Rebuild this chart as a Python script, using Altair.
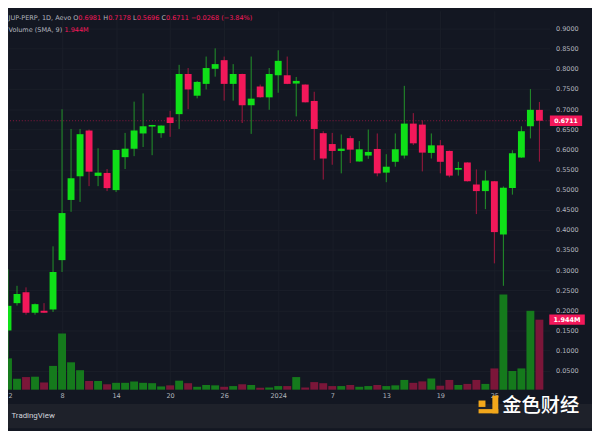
import altair as alt
import pandas as pd

# ---------------- data ----------------
day_index = list(range(60))  # 2023-12-02 ... 2024-01-30, one candle per day

opens = [0.1500, 0.2179, 0.2449, 0.1941, 0.1990, 0.2022, 0.3248, 0.4743, 0.5331, 0.6468,
         0.5341, 0.5414, 0.4988, 0.5806, 0.6017, 0.6395, 0.6566, 0.6402, 0.6794, 0.6875,
         0.7873, 0.7333, 0.7627, 0.8002, 0.8216, 0.7627, 0.7873, 0.7096, 0.7561, 0.7292,
         0.7841, 0.7841, 0.7635, 0.7610, 0.7203, 0.6402, 0.6132, 0.5961, 0.6279, 0.5699,
         0.5846, 0.6010, 0.5422, 0.5691, 0.5846, 0.6640, 0.6615, 0.5912, 0.6100, 0.5961,
         0.5495, 0.5674, 0.5127, 0.4963, 0.5208, 0.3885, 0.5037, 0.5797, 0.6574, 0.6981]
highs = [0.3020, 0.2610, 0.2571, 0.2170, 0.2179, 0.3591, 0.6998, 0.6507, 0.6507, 0.6493,
         0.6027, 0.5512, 0.5990, 0.6409, 0.7186, 0.7390, 0.6610, 0.6595, 0.6958, 0.8100,
         0.8020, 0.7701, 0.8306, 0.8510, 0.8306, 0.8118, 0.7880, 0.8306, 0.7610, 0.8020,
         0.8461, 0.8306, 0.7799, 0.7615, 0.7431, 0.6451, 0.6409, 0.6370, 0.6336, 0.6206,
         0.6493, 0.6395, 0.5880, 0.6395, 0.7578, 0.6900, 0.6720, 0.6395, 0.6230, 0.5970,
         0.5691, 0.5680, 0.5502, 0.5471, 0.5215, 0.5078, 0.5978, 0.6574, 0.7498, 0.7178]
lows = [0.0820, 0.2120, 0.1892, 0.1892, 0.1935, 0.1958, 0.2953, 0.4449, 0.4694, 0.5086,
        0.5086, 0.4963, 0.4939, 0.5512, 0.5831, 0.6059, 0.5855, 0.6287, 0.6311, 0.6507,
        0.6998, 0.7267, 0.7488, 0.7806, 0.7211, 0.7211, 0.6654, 0.6385, 0.7285, 0.6983,
        0.7407, 0.7620, 0.6819, 0.7165, 0.5733, 0.5250, 0.5618, 0.5404, 0.5659, 0.5695,
        0.5765, 0.5331, 0.5184, 0.5569, 0.5772, 0.6108, 0.5453, 0.5772, 0.5404, 0.5306,
        0.5348, 0.5200, 0.4392, 0.4515, 0.3167, 0.2610, 0.4875, 0.5790, 0.6272, 0.5696]
closes = [0.2113, 0.2407, 0.1941, 0.2154, 0.1941, 0.2953, 0.4417, 0.5282, 0.6377, 0.5446,
          0.5422, 0.5037, 0.5985, 0.6017, 0.6468, 0.6574, 0.6605, 0.6591, 0.6654, 0.7873,
          0.7488, 0.7676, 0.8020, 0.8118, 0.7627, 0.7873, 0.7096, 0.7260, 0.7292, 0.7873,
          0.8199, 0.7627, 0.7701, 0.7169, 0.6507, 0.5772, 0.5961, 0.6017, 0.5993, 0.6002,
          0.5936, 0.5404, 0.5569, 0.6002, 0.6640, 0.6150, 0.5919, 0.6100, 0.5691, 0.5348,
          0.5537, 0.5208, 0.4963, 0.5225, 0.3944, 0.5047, 0.5904, 0.6451, 0.6983, 0.6711]
volumes_m = [0.87, 0.30, 0.35, 0.36, 0.20, 0.66, 1.56, 0.76, 0.54, 0.24,
             0.24, 0.15, 0.19, 0.19, 0.23, 0.19, 0.18, 0.09, 0.12, 0.25,
             0.18, 0.08, 0.13, 0.12, 0.08, 0.10, 0.15, 0.13, 0.05, 0.06,
             0.10, 0.10, 0.35, 0.06, 0.21, 0.18, 0.10, 0.10, 0.13, 0.08,
             0.10, 0.13, 0.10, 0.12, 0.27, 0.19, 0.23, 0.31, 0.11, 0.27,
             0.13, 0.16, 0.27, 0.16, 0.59, 2.64, 0.52, 0.59, 2.19, 1.944]

tick_days = [0, 6, 12, 18, 24, 30, 36, 42, 48, 54]
tick_labels = ["2", "8", "14", "20", "26", "2024", "7", "13", "19", "25"]
price_ticks = [0.05, 0.10, 0.15, 0.20, 0.25, 0.30, 0.35, 0.40, 0.45,
               0.50, 0.55, 0.60, 0.65, 0.70, 0.75, 0.80, 0.85, 0.90]

last_price_label = "0.6711"
last_volume_label = "1.944M"
header_segments = [  # text, kind
    ("JUP-PERP, 1D, Aevo", "grey"), ("O", "grey"), ("0.6981", "red"),
    ("H", "grey"), ("0.7178", "red"), ("L", "grey"), ("0.5696", "red"),
    ("C", "grey"), ("0.6711", "red"), ("\u22120.0268 (\u22123.84%)", "red"),
]
volume_segments = [("Volume (SMA, 9)", "grey"), ("1.944M", "red")]

# ---------------- styling ----------------
BG = "#131722"
GRID = "#1a1e29"
TXT = "#b2b5be"
UP = "#0fe018"
DOWN = "#f3185a"
UP_WICK = "#23952a"
DOWN_WICK = "#a3173f"
UP_VOL = "#157a1c"
DOWN_VOL = "#7b1639"
FONT = "DejaVu Sans"
FS = 6.6

W, H = 549, 384

df = pd.DataFrame({"day": day_index, "open": opens, "high": highs, "low": lows,
                   "close": closes, "vol": volumes_m})
last = pd.DataFrame({"close": [closes[-1]], "vol": [volumes_m[-1]],
                     "plabel": [last_price_label], "vlabel": [last_volume_label]})

label_expr = " : ".join(
    f"datum.value == {d} ? '{l}'" for d, l in zip(tick_days, tick_labels)) + " : ''"

xscale = alt.Scale(domain=[0, 60.13], nice=False, zero=False, padding=0)
xaxis = alt.Axis(values=tick_days, labelExpr=label_expr, title=None, tickSize=0,
                 domain=False, labelColor=TXT, labelFontSize=FS, labelFont=FONT,
                 labelPadding=3, grid=True, gridColor=GRID, labelOverlap=False,
                 labelFlush=True)
X = alt.X("day:Q", scale=xscale, axis=xaxis)

pscale = alt.Scale(domain=[0.002941, 0.944118], nice=False, zero=False, padding=0)
paxis = alt.Axis(orient="right", values=price_ticks, format=".4f", labelAlign="left",
                 labelBaseline="middle", labelPadding=6, tickSize=0, domain=False,
                 labelColor=TXT, labelFontSize=FS, labelFont=FONT, grid=True,
                 gridColor=GRID, title=None, labelOverlap=False, labelFlush=False)


def PY(field):
    return alt.Y(field, scale=pscale, axis=paxis)


vscale = alt.Scale(domain=[0, 10.52], nice=False, zero=True, padding=0)


def VY(field):
    return alt.Y(field, scale=vscale, axis=None)


up_test = "datum.close >= datum.open"

# volume
vol_bars = alt.Chart(df).mark_bar(size=8).encode(
    x=X, y=VY("vol:Q"),
    color=alt.condition(up_test, alt.value(UP_VOL), alt.value(DOWN_VOL)))
vol_box = alt.Chart(last).mark_rule(strokeWidth=10.5, color=DOWN, strokeCap="butt").encode(
    x=alt.value(W - 0.3), x2=alt.value(W + 35.7), y=VY("vol:Q"))
vol_txt = alt.Chart(last).mark_text(color="white", fontSize=6.6, font=FONT,
                                    fontWeight="bold", baseline="middle").encode(
    x=alt.value(W + 17.7), y=VY("vol:Q"), text="vlabel:N")
vol_layer = alt.layer(vol_bars, vol_box, vol_txt)

# price
price_line = alt.Chart(last).mark_rule(color=DOWN, strokeDash=[1, 2], strokeWidth=1,
                                       opacity=0.55).encode(y=PY("close:Q"))
wicks = alt.Chart(df).mark_rule(strokeWidth=1).encode(
    x=X, y=PY("low:Q"), y2="high:Q",
    color=alt.condition(up_test, alt.value(UP_WICK), alt.value(DOWN_WICK)))
bodies = alt.Chart(df).mark_bar(size=7).encode(
    x=X, y=PY("open:Q"), y2="close:Q",
    color=alt.condition(up_test, alt.value(UP), alt.value(DOWN)))
price_box = alt.Chart(last).mark_rule(strokeWidth=10.5, color=DOWN, strokeCap="butt").encode(
    x=alt.value(W + 0.3), x2=alt.value(W + 33), y=PY("close:Q"))
price_txt = alt.Chart(last).mark_text(color="white", fontSize=6.2, font=FONT,
                                      fontWeight="bold", baseline="middle").encode(
    x=alt.value(W + 16.6), y=PY("close:Q"), text="plabel:N")
price_layer = alt.layer(price_line, wicks, bodies, price_box, price_txt)


def text_at(s, x, y, color, size=FS, weight="normal", align="left", font=FONT):
    return alt.Chart(pd.DataFrame({"t": [s]})).mark_text(
        align=align, baseline="middle", fontSize=size, font=font,
        fontWeight=weight, color=color).encode(
        x=alt.value(x), y=alt.value(y), text="t:N")


def box_at(x, x2, y, y2, color):
    return alt.Chart(pd.DataFrame({"a": [0]})).mark_rect(color=color).encode(
        x=alt.value(x), x2=alt.value(x2), y=alt.value(y), y2=alt.value(y2))


kind_color = {"grey": TXT, "red": DOWN}
header_x = [0.5, 66.2, 71.3, 96.5, 101.5, 126.7, 130.4, 155.5, 160.2, 185.4]
header_layers = [text_at(s, hx, 7.5, kind_color[k])
                 for (s, k), hx in zip(header_segments, header_x)]
volume_x = [0.5, 57.2]
header_layers += [text_at(s, vx, 19.3, kind_color[k])
                  for (s, k), vx in zip(volume_segments, volume_x)]

bottom_band = box_at(0, 592, 398.5, 423, "#1e212a")
tv_text = text_at("TradingView", 3.5, 410.5, "#d1d4dc", size=8, font="Roboto")

gold = "#f2a71b"
logo = [
    box_at(477, 484, 395, 401.5, gold),
    box_at(491, 497, 390, 408, gold),
    box_at(477, 497, 403.7, 408, gold),
]
watermark = text_at("金色财经", 501, 401, "#ffffff", size=19.5, weight=500,
                    font="Noto Sans CJK SC")

chart = alt.layer(
    bottom_band, vol_layer, price_layer, *header_layers, tv_text, *logo, watermark
).resolve_scale(y="independent").properties(
    width=W, height=H,
    padding={"left": 0, "top": 0, "right": 592 - W, "bottom": 423 - H},
    autosize=alt.AutoSizeParams(type="none"),
    background=BG,
).configure_view(stroke=None)

chart.save("out.html", embed_options={"renderer": "svg", "actions": False})
